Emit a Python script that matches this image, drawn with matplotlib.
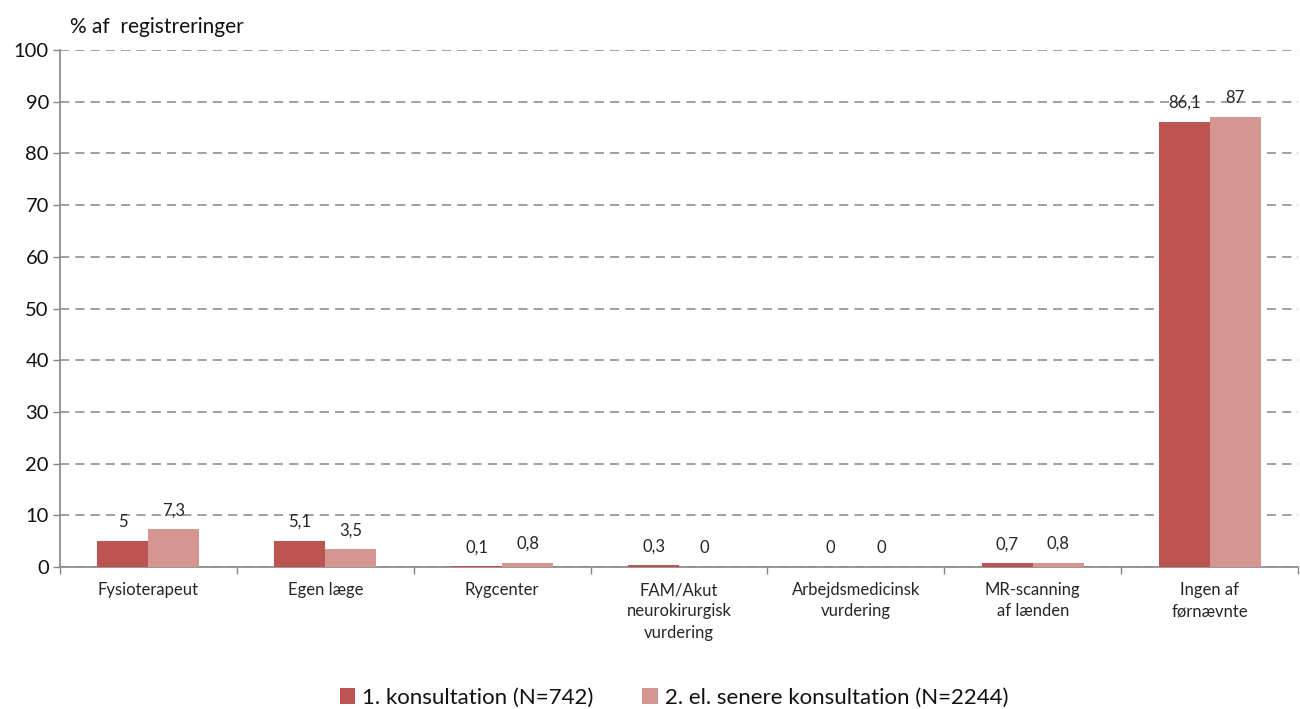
import matplotlib
import matplotlib.pyplot as plt
import numpy as np

matplotlib.use("Agg")
plt.rcParams['font.family'] = ['Lato', 'DejaVu Sans']

categories = ['Fysioterapeut', 'Egen læge', 'Rygcenter', 'FAM/Akut\nneurokirurgisk\nvurdering',
              'Arbejdsmedicinsk\nvurdering', 'MR-scanning\naf lænden', 'Ingen af\nførnævnte']
first = [5, 5.1, 0.1, 0.3, 0, 0.7, 86.1]
later = [7.3, 3.5, 0.8, 0, 0, 0.8, 87]
first_lbl = ['5', '5,1', '0,1', '0,3', '0', '0,7', '86,1']
later_lbl = ['7,3', '3,5', '0,8', '0', '0', '0,8', '87']
series_names = ['1. konsultation (N=742)', '2. el. senere konsultation (N=2244)']

c1 = '#BC5451'
c2 = '#D59591'
grey = '#868686'

fig = plt.figure(figsize=(13, 7.09), dpi=100)
ax = fig.add_axes([60 / 1300, 142 / 709, 1238 / 1300, 517 / 709])

x = np.arange(len(categories))
w = 0.288
ax.bar(x - w / 2, first, w, color=c1, label=series_names[0], zorder=3)
ax.bar(x + w / 2, later, w, color=c2, label=series_names[1], zorder=3)

for xi, v, t in zip(x - w / 2, first, first_lbl):
    ax.annotate(t, (xi, v), xytext=(0, 13.5), textcoords='offset points',
                ha='center', va='center', fontsize=12, color='#262626', zorder=4)
for xi, v, t in zip(x + w / 2, later, later_lbl):
    ax.annotate(t, (xi, v), xytext=(0, 13.5), textcoords='offset points',
                ha='center', va='center', fontsize=12, color='#262626', zorder=4)

ax.set_xlim(-0.5, len(categories) - 0.5)
ax.set_ylim(0, 100)
ax.set_yticks(range(0, 101, 10))
ax.yaxis.grid(True, linestyle=(0, (6, 4)), color=grey, linewidth=1.1, zorder=0)
ax.tick_params(axis='y', length=5, width=1, color=grey, labelsize=14.5, labelcolor='#111111', pad=3)

ax.set_xticks(x)
ax.set_xticklabels(categories, fontsize=12, color='#262626', linespacing=1.4)
ax.tick_params(axis='x', length=0, pad=11)
ax.set_xticks(np.arange(-0.5, len(categories), 1), minor=True)
ax.tick_params(axis='x', which='minor', length=5, width=1, color=grey)

for s in ['top', 'right']:
    ax.spines[s].set_visible(False)
ax.spines['left'].set_color(grey)
ax.spines['bottom'].set_color(grey)
ax.spines['left'].set_linewidth(1.2)
ax.spines['bottom'].set_linewidth(1.2)

fig.text(70 / 1300, 1 - 27 / 709, '% af  registreringer', fontsize=15, color='#111111',
         ha='left', va='center')

fig.legend(loc='center', bbox_to_anchor=(674 / 1300, 1 - 698 / 709), ncol=2, frameon=False,
           fontsize=16, handlelength=0.7, handleheight=0.7, handletextpad=0.3,
           columnspacing=2.2, labelcolor='#111111')

plt.savefig('out.png', dpi=100)
plt.close()
